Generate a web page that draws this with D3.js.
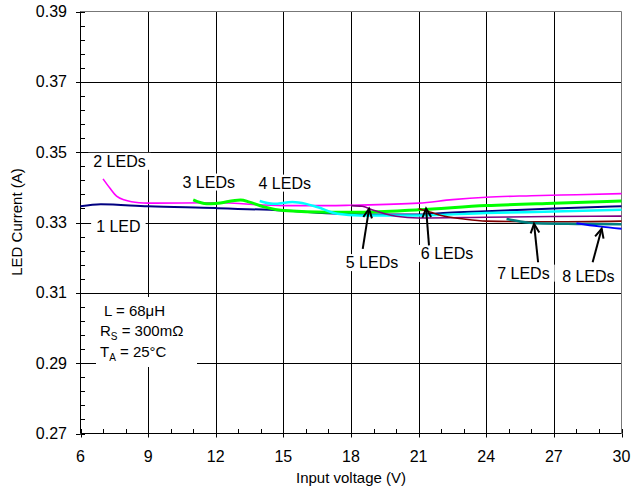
<!DOCTYPE html>
<html><head><meta charset="utf-8">
<script src="https://cdn.jsdelivr.net/npm/d3@7"></script>
<style>body{margin:0;background:#fff}svg{display:block;font-family:"Liberation Sans",Arial,sans-serif}</style>
</head><body><svg id="c" width="642" height="488"></svg>
<script>
const xTicks=[6,9,12,15,18,21,24,27,30];
const yTicks=[0.27,0.29,0.31,0.33,0.35,0.37,0.39];
const yTickLabels=["0.27","0.29","0.31","0.33","0.35","0.37","0.39"];
const led1=[[6,0.3346],[6.9,0.3352],[9,0.3346],[12,0.3341],[15,0.3334],[17.5,0.3325],[19,0.3323],[21,0.3323],[22.3,0.3328],[24,0.3332],[27,0.3340],[30,0.3346]];
const led2=[[7,0.3424],[7.3,0.3398],[7.6,0.3375],[8,0.3363],[8.6,0.3356],[9,0.3355],[12,0.3356],[15,0.3348],[17,0.3348],[18,0.3349],[21,0.3355],[22.5,0.3365],[24,0.3372],[26,0.3376],[28,0.3379],[30,0.3382]];
const led3=[[11,0.3364],[11.6,0.3353],[12,0.3354],[13.1,0.3364],[13.5,0.3358],[14.1,0.3345],[15,0.3334],[17,0.3329],[18.4,0.3329],[21,0.3336],[24,0.3348],[27,0.3355],[30,0.3361]];
const led4=[[13.95,0.3361],[14.55,0.3353],[15.4,0.3358],[16,0.3353],[16.5,0.3344],[17.4,0.3325],[18.4,0.3320],[21,0.3320],[24,0.3327],[27,0.3331],[30,0.3336]];
const led5=[[18,0.3348],[18.5,0.3346],[19,0.3335],[19.5,0.3325],[20,0.3318],[21,0.3313],[24,0.3315],[27,0.3317],[30,0.3318]];
const led6=[[21,0.3339],[21.5,0.3330],[22,0.3320],[23,0.3310],[24,0.3304],[27,0.3302],[30,0.3304]];
const led7=[[24.9,0.3310],[25.5,0.3303],[26.2,0.3298],[28,0.3296],[30,0.3295]];
const led8=[[28,0.3298],[29,0.3289],[30,0.3282]];
const seriesNames=["1 LED","2 LEDs","3 LEDs","4 LEDs","5 LEDs","6 LEDs","7 LEDs","8 LEDs"];
const seriesData=[led1,led2,led3,led4,led5,led6,led7,led8];
const seriesColors=["#000080","#ff00ff","#00ff00","#00ffff","#800080","#800000","#008080","#0000ff"];
const seriesWidths=[2,1.6,3,2.5,1.6,1.6,2.5,2];
// labels: [text, x, y]
const labels=[["1 LED",7.68,0.3289],["2 LEDs",7.73,0.3474],["3 LEDs",11.69,0.3415],["4 LEDs",15.06,0.3412],
 ["5 LEDs",18.93,0.3186],["6 LEDs",22.26,0.3212],["7 LEDs",25.65,0.3156],["8 LEDs",28.53,0.3147]];
// arrows: [x tail, y tail, x tip, y tip]
const arrows=[[18.52,0.3225,18.80,0.3339],[21.46,0.3235,21.33,0.3340],[26.30,0.3187,26.12,0.3296],[28.72,0.3187,29.12,0.3282]];

const svg=d3.select("#c");
const L=80.5,R=621.5,T=11.5,B=433.5;
const x=d3.scaleLinear().domain([6,30]).range([L,R]);
const y=d3.scaleLinear().domain([0.27,0.39]).range([B,T]);

// grid
const g=svg.append("g");
g.selectAll(".vg").data(xTicks.slice(1,-1)).join("line").attr("x1",d=>Math.round(x(d))+0.5).attr("x2",d=>Math.round(x(d))+0.5).attr("y1",T).attr("y2",B).attr("stroke","#000").attr("stroke-width",1);
g.selectAll(".hg").data(yTicks.slice(1,-1)).join("line").attr("x1",L).attr("x2",R).attr("y1",d=>Math.round(y(d))+0.5).attr("y2",d=>Math.round(y(d))+0.5).attr("stroke","#000").attr("stroke-width",1);
// frame top/right
svg.append("line").attr("x1",L).attr("x2",R).attr("y1",T).attr("y2",T).attr("stroke","#777");
svg.append("line").attr("x1",R).attr("x2",R).attr("y1",T).attr("y2",B).attr("stroke","#777");

// white boxes behind labels
const fs=16;
const lab=svg.append("g").attr("font-size",fs);
labels.forEach(l=>{
  const t=lab.append("text").attr("x",x(l[1])).attr("y",y(l[2])).attr("text-anchor","middle").attr("dominant-baseline","central").text(l[0]);
  const bb=t.node().getBBox();
  lab.insert("rect","text").attr("x",bb.x-5).attr("y",bb.y).attr("width",bb.width+10).attr("height",bb.height).attr("fill","#fff");
});
lab.raise();
// text block box
svg.append("rect").attr("x",96).attr("y",297).attr("width",101).attr("height",70).attr("fill","#fff");

// axes
const ax=svg.append("g");
ax.append("line").attr("x1",L).attr("x2",L).attr("y1",T).attr("y2",B).attr("stroke","#000");
ax.append("line").attr("x1",L).attr("x2",R).attr("y1",B).attr("y2",B).attr("stroke","#000");
const yMinor=d3.range(0,31).map(i=>0.27+i*0.004);
ax.selectAll(".ym").data(yMinor).join("line").attr("x1",L).attr("x2",L+4.5).attr("y1",d=>Math.round(y(d))+0.5).attr("y2",d=>Math.round(y(d))+0.5).attr("stroke","#000");
ax.selectAll(".yM").data(yTicks).join("line").attr("x1",L-4.5).attr("x2",L).attr("y1",d=>Math.round(y(d))+0.5).attr("y2",d=>Math.round(y(d))+0.5).attr("stroke","#000");
const xMinor=d3.range(6,31);
ax.selectAll(".xm").data(xMinor).join("line").attr("x1",d=>Math.round(x(d))+0.5).attr("x2",d=>Math.round(x(d))+0.5).attr("y1",B-4.5).attr("y2",B).attr("stroke","#000");
ax.selectAll(".xM").data(xTicks).join("line").attr("x1",d=>Math.round(x(d))+0.5).attr("x2",d=>Math.round(x(d))+0.5).attr("y1",B).attr("y2",B+4).attr("stroke","#000");
ax.selectAll(".yl").data(yTicks).join("text").attr("x",67).attr("y",d=>y(d)).attr("dy","0.35em").attr("text-anchor","end").attr("font-size",16).text((d,i)=>yTickLabels[i]);
ax.selectAll(".xl").data(xTicks).join("text").attr("x",d=>x(d)).attr("y",462).attr("text-anchor","middle").attr("font-size",16).text(d=>d);
svg.append("text").attr("x",(L+R)/2).attr("y",483).attr("text-anchor","middle").attr("font-size",15).text("Input voltage (V)");
svg.append("text").attr("transform","translate(22,222) rotate(-90)").attr("text-anchor","middle").attr("font-size",15).text("LED Current (A)");

// series
const line=d3.line().x(d=>x(d[0])).y(d=>y(d[1])).curve(d3.curveMonotoneX);
seriesData.forEach((s,i)=>{
  svg.append("path").datum(s).attr("d",line).attr("fill","none").attr("stroke",seriesColors[i]).attr("stroke-width",seriesWidths[i]).attr("stroke-linejoin","round");
});
lab.raise();

// arrows
arrows.forEach(a=>{
  const x1=x(a[0]),y1=y(a[1]),x2=x(a[2]),y2=y(a[3]);
  svg.append("line").attr("x1",x1).attr("y1",y1).attr("x2",x2).attr("y2",y2).attr("stroke","#000").attr("stroke-width",2);
  const ang=Math.atan2(y2-y1,x2-x1),h=10,w=0.45;
  const p1=[x2-h*Math.cos(ang-w),y2-h*Math.sin(ang-w)],p2=[x2-h*Math.cos(ang+w),y2-h*Math.sin(ang+w)];
  svg.append("path").attr("d",`M${p1}L${x2},${y2}L${p2}`).attr("fill","none").attr("stroke","#000").attr("stroke-width",2);
});

// condition text
const tb=svg.append("g").attr("font-size",15);
tb.append("text").attr("x",104).attr("y",316).text("L = 68μH");
const t2=tb.append("text").attr("x",100).attr("y",336);
t2.append("tspan").text("R");t2.append("tspan").attr("font-size",10).attr("dy",4).text("S");t2.append("tspan").attr("dy",-4).text(" = 300mΩ");
const t3=tb.append("text").attr("x",100).attr("y",357);
t3.append("tspan").text("T");t3.append("tspan").attr("font-size",10).attr("dy",4).text("A");t3.append("tspan").attr("dy",-4).text(" = 25°C");
</script></body></html>
